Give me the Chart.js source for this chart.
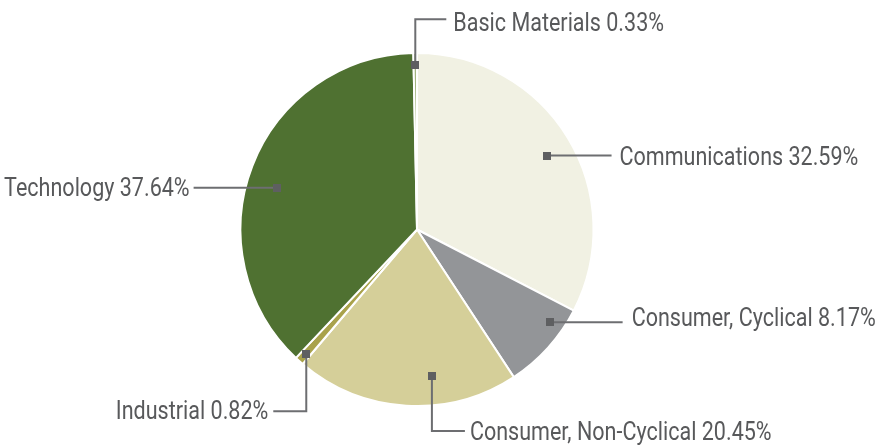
<!DOCTYPE html>
<html><head><meta charset="utf-8">
<script src="https://cdn.jsdelivr.net/npm/chart.js@4/dist/chart.umd.min.js"></script>
<style>html,body{margin:0;padding:0;background:#fff}#wrap{width:878px;height:445px;position:relative}</style>
</head><body><div id="wrap"><canvas id="c" width="878" height="445"></canvas></div>
<script>
// ---- data ----
const categories = ["Communications", "Consumer, Cyclical", "Consumer, Non-Cyclical", "Industrial", "Technology", "Basic Materials"];
const weights = [32.59, 8.17, 20.45, 0.82, 37.64, 0.33];
const percentLabels = ["32.59%", "8.17%", "20.45%", "0.82%", "37.64%", "0.33%"];

// ---- styles ----
const sliceColors = ["#f1f1e3", "#939598", "#d5cf99", "#a9a24b", "#4f7131", "#a3b47f"];
const FONT_SIZE = 26;
const FONT = FONT_SIZE + 'px Roboto, "Liberation Sans", sans-serif';
const TEXT_COLOR = "#58595b";
const LINE_COLOR = "#6d6e71";
const MARK_COLOR = "#5e5f61";
const TEXT_SQUEEZE = 0.828; // condensed look: horizontal scale of label text
// leader layout: t = position within slice angle, f = fraction of radius, segs = elbow path, gap = text gap, dy = text shift
const leaderLayout = [
  {t: 0.514, f: 0.845, segs: [["h", 65]], gap: 8, dy: 0},
  {t: 0.26,  f: 0.917, segs: [["h", 73]], gap: 9, dy: -6},
  {t: 0.373, f: 0.835, segs: [["v", 55], ["h", 33]], gap: 5, dy: 0},
  {t: 0.42,  f: 0.945, segs: [["v", 57], ["h", -33]], gap: 5, dy: -1},
  {t: 0.467, f: 0.83,  segs: [["h", -83]], gap: 4, dy: -0.5},
  {t: 0.5,   f: 0.93,  segs: [["v", -46], ["h", 31]], gap: 7, dy: 2.5}
];

const leaderPlugin = {
  id: "leaders",
  afterDatasetsDraw(chart) {
    const ctx = chart.ctx;
    const meta = chart.getDatasetMeta(0);
    meta.data.forEach((arc, i) => {
      const L = leaderLayout[i];
      const p = arc.getProps(["x", "y", "startAngle", "endAngle", "outerRadius"], true);
      const a = p.startAngle + L.t * (p.endAngle - p.startAngle);
      const d = L.f * p.outerRadius;
      const mx = p.x + Math.cos(a) * d, my = p.y + Math.sin(a) * d;
      let x = mx, y = my, lastDir = 1;
      ctx.save();
      ctx.strokeStyle = LINE_COLOR;
      ctx.lineWidth = 2;
      ctx.beginPath();
      ctx.moveTo(x, y);
      L.segs.forEach(([k, v]) => {
        if (k === "h") { x += v; lastDir = Math.sign(v); } else { y += v; }
        ctx.lineTo(x, y);
      });
      ctx.stroke();
      ctx.fillStyle = MARK_COLOR;
      ctx.fillRect(Math.round(mx) - 4, Math.round(my) - 4, 8, 8);
      ctx.fillStyle = TEXT_COLOR;
      ctx.font = FONT;
      ctx.textBaseline = "alphabetic";
      ctx.textAlign = lastDir > 0 ? "left" : "right";
      ctx.translate(x + lastDir * L.gap, y + FONT_SIZE * 0.711 / 2 + L.dy);
      ctx.scale(TEXT_SQUEEZE, 1);
      ctx.fillText(categories[i] + " " + percentLabels[i], 0, 0);
      ctx.restore();
    });
  }
};

new Chart(document.getElementById("c"), {
  type: "pie",
  data: {
    labels: categories,
    datasets: [{
      data: weights,
      backgroundColor: sliceColors,
      borderColor: "#ffffff",
      borderWidth: 2
    }]
  },
  options: {
    responsive: false,
    animation: false,
    layout: {padding: {top: 52, bottom: 38, left: 0, right: 44}},
    plugins: {legend: {display: false}, tooltip: {enabled: false}}
  },
  plugins: [leaderPlugin]
});
</script>
</body></html>
